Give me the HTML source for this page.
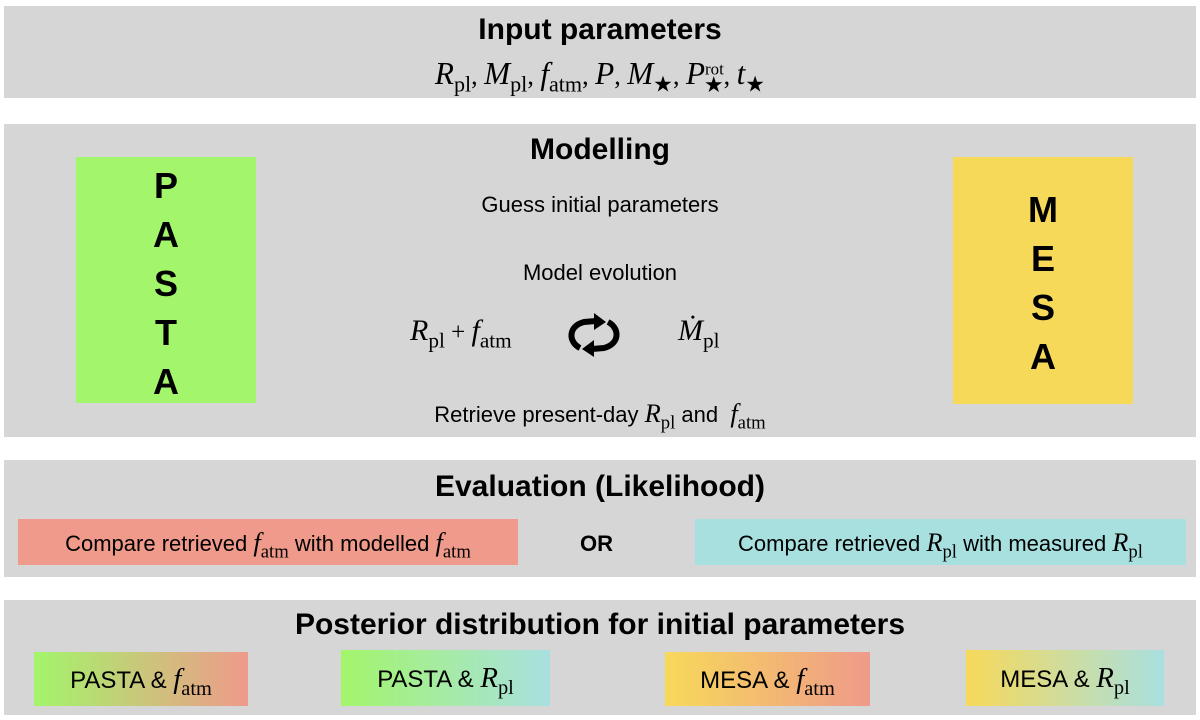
<html><head><style>
body{margin:0;width:1200px;height:720px;background:#fff;position:relative;font-family:"Liberation Sans",sans-serif;overflow:hidden}
.p{position:absolute;left:4px;width:1192px;background:#d6d6d6}
.a{position:absolute;white-space:nowrap}
.t{font-weight:bold;font-size:30px;text-align:center;width:1200px;left:0}
.m{font-family:"Liberation Serif",serif}
i{font-family:"Liberation Serif",serif;font-style:italic;font-size:1.2em}
sub{font-family:"Liberation Serif",serif;font-style:normal;font-size:0.85em;vertical-align:-0.35em;line-height:0}
sup{font-family:"Liberation Serif",serif;font-size:0.65em;line-height:0}
.c{text-align:center;width:1200px;left:0;font-size:22px}
.big{position:absolute;font-weight:bold;font-size:36px;text-align:center;line-height:49px}
.b{position:absolute;font-size:22px;display:flex;align-items:center;justify-content:center;white-space:nowrap}
</style></head><body>
<div class="p" style="top:6px;height:92px"></div>
<div class="p" style="top:124px;height:313px"></div>
<div class="p" style="top:460px;height:117px"></div>
<div class="p" style="top:600px;height:115px"></div>

<div class="a t" style="top:13px">Input parameters</div>
<div class="a c m" style="top:56px;font-size:26px"><i>R</i><sub>pl</sub>, <i>M</i><sub>pl</sub>, <i>f</i><sub>atm</sub>, <i>P</i>, <i>M</i><sub>★</sub>, <i>P</i><sup>rot</sup><sub style="margin-left:-20px">★</sub>, <i>t</i><sub>★</sub></div>

<div class="a t" style="top:133px">Modelling</div>
<div class="big" style="left:76px;top:157px;width:180px;height:234px;background:#a3f56b;padding-top:4px;height:242px">P<br>A<br>S<br>T<br>A</div>
<div class="big" style="left:953px;top:157px;width:180px;background:#f7d95a;padding-top:28px;height:219px">M<br>E<br>S<br>A</div>
<div class="a c" style="top:192px">Guess initial parameters</div>
<div class="a c" style="top:260px">Model evolution</div>
<div class="a m" style="left:410px;top:314px;font-size:25px"><i>R</i><sub>pl</sub> + <i>f</i><sub>atm</sub></div>
<svg class="a" style="left:566px;top:312px" width="56" height="46" viewBox="0 0 56 46"><path d="M14 36 C2 30 2 14 18 10 L30 9" fill="none" stroke="#000" stroke-width="6"/><path d="M28 1 L40 10 L28 18Z"/><path d="M42 10 C54 16 54 32 38 36 L26 37" fill="none" stroke="#000" stroke-width="6"/><path d="M28 28 L16 37 L28 45Z"/></svg>
<div class="a m" style="left:678px;top:314px;font-size:25px"><i>Ṁ</i><sub>pl</sub></div>
<div class="a c" style="top:398px">Retrieve present-day <i>R</i><sub>pl</sub> and &nbsp;<i>f</i><sub>atm</sub></div>

<div class="a t" style="top:470px">Evaluation (Likelihood)</div>
<div class="b" style="left:18px;top:519px;width:500px;height:46px;background:#ef9a8a"><span>Compare retrieved <i>f</i><sub>atm</sub> with modelled <i>f</i><sub>atm</sub></span></div>
<div class="a" style="left:580px;top:531px;font-weight:bold;font-size:22px">OR</div>
<div class="b" style="left:695px;top:519px;width:491px;height:46px;background:#a8e0e0"><span>Compare retrieved <i>R</i><sub>pl</sub> with measured <i>R</i><sub>pl</sub></span></div>

<div class="a t" style="top:608px">Posterior distribution for initial parameters</div>
<div class="b" style="left:34px;top:652px;width:214px;height:54px;background:linear-gradient(90deg,#a3f56b,#ef9a8a);font-size:24px"><span>PASTA &amp; <i>f</i><sub>atm</sub></span></div>
<div class="b" style="left:341px;top:650px;width:209px;height:56px;background:linear-gradient(90deg,#a3f56b,#a8e0e0);font-size:24px"><span>PASTA &amp; <i>R</i><sub>pl</sub></span></div>
<div class="b" style="left:665px;top:652px;width:205px;height:54px;background:linear-gradient(90deg,#f7d95a,#ef9a8a);font-size:24px"><span>MESA &amp; <i>f</i><sub>atm</sub></span></div>
<div class="b" style="left:966px;top:650px;width:198px;height:56px;background:linear-gradient(90deg,#f7d95a,#a8e0e0);font-size:24px"><span>MESA &amp; <i>R</i><sub>pl</sub></span></div>
</body></html>
